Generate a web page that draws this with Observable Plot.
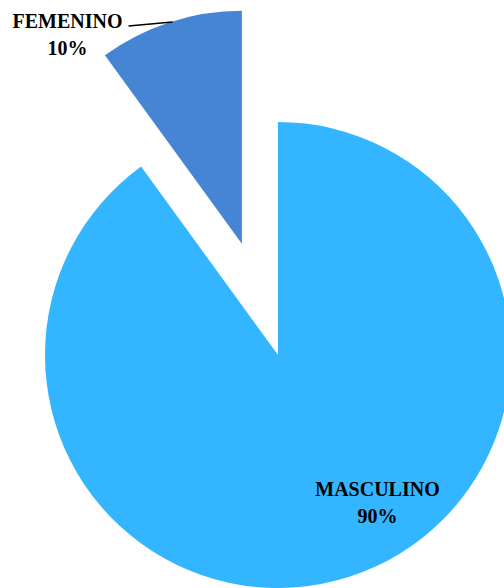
<!DOCTYPE html>
<html>
<head>
<meta charset="utf-8">
<script src="https://cdn.jsdelivr.net/npm/d3@7"></script>
<script src="https://cdn.jsdelivr.net/npm/@observablehq/plot@0.6"></script>
<style>
  html, body { margin: 0; padding: 0; background: #fff; }
  svg { display: block; }
</style>
</head>
<body>
<div id="chart"></div>
<script>
// Data
const categories = ["MASCULINO", "FEMENINO"];
const values = [90, 10];
const percentLabels = ["90%", "10%"];
const colors = ["#33B5FF", "#4684D4"];

// Layout (pixels)
const W = 504, H = 588;
const CX = 278, CY = 355, R = 233;
const EXPLODE = [0, 117]; // px offset along bisector per slice

const data = categories.map((c, i) => ({category: c, value: values[i], label: percentLabels[i], color: colors[i]}));

const toX = px => (px - CX) / R;
const toY = py => (CY - py) / R;

// label placement (px)
const labelPos = {
  MASCULINO: [377, 500],
  FEMENINO: [67, 32.5]
};
const labels = data.map(d => ({
  text: d.category + "\n" + d.label,
  x: toX(labelPos[d.category][0]),
  y: toY(labelPos[d.category][1])
}));
const leader = [{x1: toX(128), y1: toY(25.5), x2: toX(172), y2: toY(21.5)}];

const arcs = d3.pie().value(d => d.value).sort(null)(data);

function pieMark(index, scales) {
  const {x, y} = scales;
  const cx = x(0), cy = y(0), r = x(1) - x(0);
  const arc = d3.arc().innerRadius(0).outerRadius(r);
  const g = d3.create("svg:g");
  arcs.forEach((a, i) => {
    const mid = (a.startAngle + a.endAngle) / 2;
    const off = EXPLODE[i];
    const ox = cx + Math.sin(mid) * off;
    const oy = cy - Math.cos(mid) * off;
    g.append("path")
      .attr("d", arc(a))
      .attr("transform", `translate(${ox},${oy})`)
      .attr("fill", a.data.color);
  });
  return g.node();
}

const chart = Plot.plot({
  width: W,
  height: H,
  margin: 0,
  x: {domain: [toX(0), toX(W)], range: [0, W], axis: null},
  y: {domain: [toY(H), toY(0)], range: [H, 0], axis: null},
  style: {fontFamily: "'Liberation Serif', serif", background: "#fff"},
  marks: [
    pieMark,
    Plot.link(leader, {x1: "x1", y1: "y1", x2: "x2", y2: "y2", stroke: "#000", strokeWidth: 1.6}),
    Plot.text(labels, {
      x: "x", y: "y", text: "text",
      fontSize: 20, fontWeight: "bold", fill: "#000",
      lineHeight: 1.35, textAnchor: "middle", lineAnchor: "middle"
    })
  ]
});
document.getElementById("chart").appendChild(chart);
</script>
</body>
</html>
